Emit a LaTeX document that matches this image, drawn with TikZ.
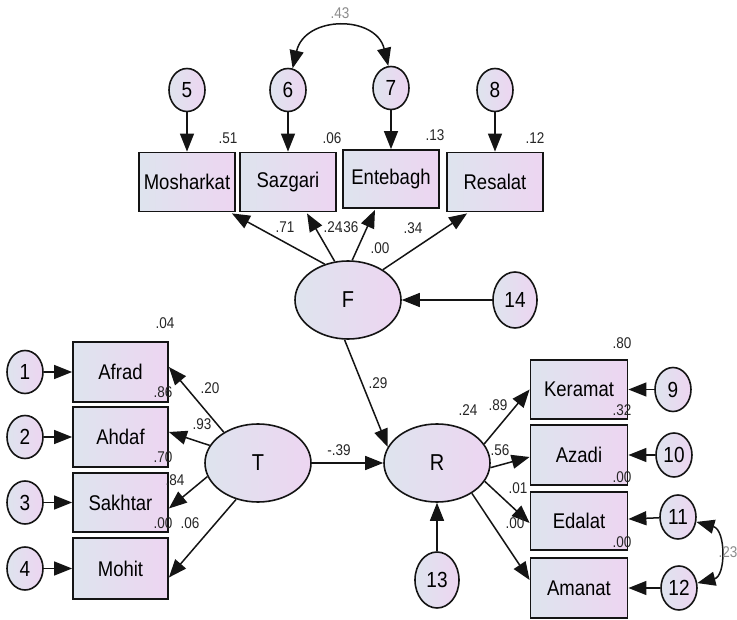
\documentclass[tikz,border=0pt]{standalone}
\usepackage{fontspec}
\setmainfont{Liberation Sans}
\usepackage{graphicx}
\usetikzlibrary{arrows.meta,shapes.geometric,calc}
\definecolor{gL}{RGB}{222,228,238}
\definecolor{gR}{RGB}{237,213,241}
\definecolor{ln}{RGB}{20,20,20}
\newcommand\vs[1]{\scalebox{1}[1.15]{#1}}
\begin{document}
\begin{tikzpicture}[x=1pt,y=-1pt,
  >={Triangle[length=18pt,width=14pt]},
  obs/.style={draw=ln,line width=1.8pt,left color=gL,right color=gR,
    minimum width=96pt,minimum height=59pt,inner sep=0pt,
    font=\fontsize{18.5}{20}\selectfont},
  err/.style={ellipse,draw=ln,line width=1.6pt,left color=gL,right color=gR,
    minimum width=36pt,minimum height=43pt,inner sep=0pt,
    font=\fontsize{19}{20}\selectfont},
  errb/.style={err,minimum width=44pt,minimum height=56pt},
  lat/.style={ellipse,draw=ln,line width=1.6pt,left color=gL,right color=gR,
    minimum width=106pt,minimum height=78pt,inner sep=0pt,
    font=\fontsize{20}{22}\selectfont},
  lab/.style={inner sep=0pt,font=\fontsize{13.5}{15}\selectfont,text=black!85},
  glab/.style={lab,text=black!45},
  pth/.style={->,line width=1.5pt,draw=ln}]
\fill[white] (0,0) rectangle (737,620);
\useasboundingbox (0,0) rectangle (737,620);

% top error terms and indicators
\node[err] (e5) at (187,90) {\vs{5}};
\node[err] (e6) at (288,90) {\vs{6}};
\node[err] (e7) at (391,88) {\vs{7}};
\node[err] (e8) at (495,90) {\vs{8}};
\node[obs] (Mos) at (187,182) {\vs{Mosharkat}};
\node[obs] (Saz) at (288,182) {\vs{Sazgari}};
\node[obs,minimum height=58pt] (Ent) at (391,179) {\vs{Entebagh}};
\node[obs] (Res) at (495,182) {\vs{Resalat}};

% latent F
\node[lat] (F) at (348,300) {\vs{F}};
\node[errb] (e14) at (515,300) {\vs{14}};

% left
\node[obs,minimum width=95pt,minimum height=60pt] (Afr) at (120.5,372) {\vs{Afrad}};
\node[obs,minimum width=95pt,minimum height=60pt] (Ahd) at (120.5,437) {\vs{Ahdaf}};
\node[obs,minimum width=95pt,minimum height=59pt] (Sak) at (120.5,502.5) {\vs{Sakhtar}};
\node[obs,minimum width=95pt,minimum height=61pt] (Moh) at (120.5,568.5) {\vs{Mohit}};
\node[err] (e1) at (25,372) {\vs{1}};
\node[err] (e2) at (25,437) {\vs{2}};
\node[err] (e3) at (25,502.5) {\vs{3}};
\node[err] (e4) at (25,568.5) {\vs{4}};
\node[lat] (T) at (258,463) {\vs{T}};

% right
\node[lat] (R) at (437,463) {\vs{R}};
\node[errb] (e13) at (437,580) {\vs{13}};
\node[obs,minimum width=97pt,minimum height=59pt] (Ker) at (579,389.5) {\vs{Keramat}};
\node[obs,minimum width=97pt,minimum height=60pt] (Aza) at (579,455) {\vs{Azadi}};
\node[obs,minimum width=97pt,minimum height=58pt] (Eda) at (579,521) {\vs{Edalat}};
\node[obs,minimum width=97pt,minimum height=60pt] (Ama) at (579,588) {\vs{Amanat}};
\node[err,minimum height=44pt] (e9) at (673,389.5) {\vs{9}};
\node[err,minimum height=44pt] (e10) at (674,455) {\vs{10}};
\node[err,minimum height=44pt] (e11) at (678,517) {\vs{11}};
\node[err,minimum height=44pt] (e12) at (679,588) {\vs{12}};

% arrows top
\draw[pth] (e5) -- (Mos);
\draw[pth] (e6) -- (Saz);
\draw[pth] (e7) -- (Ent);
\draw[pth] (e8) -- (Res);
\draw[pth] (F.123) -- ($(Mos.south east)+(-4,1)$);
\draw[pth] (F.109) -- ($(Saz.south)+(19,1)$);
\draw[pth] (F.84) -- ($(Ent.south)+(-16,1)$);
\draw[pth] (F.41) -- ($(Res.south west)+(21,1)$);
\draw[pth] (e14) -- (F);
\draw[pth,<->] (e6.78) .. controls (305,15) and (376,15) .. (e7.97);

% left arrows
\draw[pth] (e1) -- (Afr);
\draw[pth] (e2) -- (Ahd);
\draw[pth] (e3) -- (Sak);
\draw[pth] (e4) -- (Moh);
\draw[pth] (T.138) -- ($(Afr.east)+(0,-5)$);
\draw[pth] (T.160) -- ($(Ahd.east)+(0,-5)$);
\draw[pth] (T.195) -- ($(Sak.east)+(0,6)$);
\draw[pth] (T.239) -- ($(Moh.east)+(0,9)$);

% structural
\draw[pth] (T) -- (R);
\draw[pth] (F.265) -- (R.162);
\draw[pth] (e13) -- (R);

% right arrows
\draw[pth] (R.22) -- (Ker.west);
\draw[pth] (R.-5) -- ($(Aza.west)+(0,2)$);
\draw[pth] (R.-21) -- ($(Eda.west)+(0,2)$);
\draw[pth] (R.-41) -- ($(Ama.west)+(0,-8)$);
\draw[pth] (e9) -- (Ker);
\draw[pth] (e10) -- (Aza);
\draw[pth] (e11) -- (Eda);
\draw[pth] (e12) -- (Ama);
\draw[pth,<->] (e11.-15) .. controls (726,530) and (726,576) .. (e12.15);

% labels
\node[glab] (l43) at (340,13) {\vs{.43}};
\node[lab] (l51) at (228,138) {\vs{.51}};
\node[lab] (l06) at (332,138) {\vs{.06}};
\node[lab] (l13) at (435,135) {\vs{.13}};
\node[lab] (l12) at (535,138) {\vs{.12}};
\node[lab] (l71) at (285,227) {\vs{.71}};
\node[lab] (l24a) at (333,227) {\vs{.24}};
\node[lab] (l36) at (349,227) {\vs{.36}};
\node[lab] (l00a) at (380,248) {\vs{.00}};
\node[lab] (l34) at (413,228) {\vs{.34}};
\node[lab] (l29) at (378,383) {\vs{.29}};
\node[lab] (lm39) at (339,450) {\vs{-.39}};
\node[lab] (l04) at (165,323) {\vs{.04}};
\node[lab] (l20) at (210,388) {\vs{.20}};
\node[lab] (l86) at (163,392) {\vs{.86}};
\node[lab] (l93) at (202,424) {\vs{.93}};
\node[lab] (l70) at (163,457) {\vs{.70}};
\node[lab] (l84) at (175,480) {\vs{.84}};
\node[lab] (l00b) at (163,523) {\vs{.00}};
\node[lab] (l06b) at (190,523) {\vs{.06}};
\node[lab] (l80) at (622,343) {\vs{.80}};
\node[lab] (l24b) at (468,410) {\vs{.24}};
\node[lab] (l89) at (498,405) {\vs{.89}};
\node[lab] (l32) at (622,410) {\vs{.32}};
\node[lab] (l56) at (500,450) {\vs{.56}};
\node[lab] (l00c) at (622,477) {\vs{.00}};
\node[lab] (l01) at (518,488) {\vs{.01}};
\node[lab] (l00d) at (515,523) {\vs{.00}};
\node[lab] (l00e) at (622,542) {\vs{.00}};
\node[glab] (l23) at (728,552) {\vs{.23}};
\end{tikzpicture}
\end{document}
